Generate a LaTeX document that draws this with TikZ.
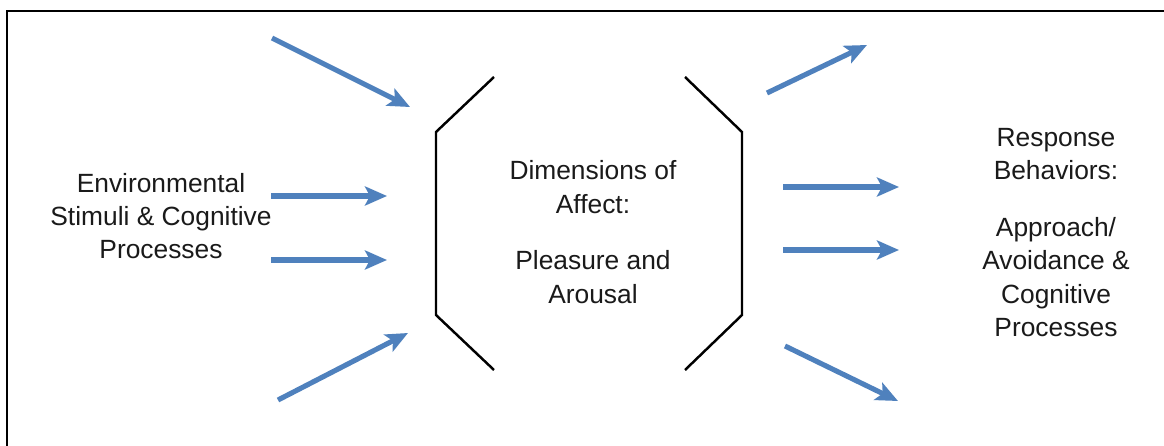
\documentclass[tikz,border=0pt]{standalone}
\usepackage{fontspec}
\setmainfont{Liberation Sans}
\usetikzlibrary{arrows.meta}
\definecolor{arrowblue}{HTML}{4F81BD}
\definecolor{txt}{HTML}{1A1A1A}
\begin{document}
\begin{tikzpicture}[x={(0.02cm,0)},y={(0,-0.02cm)},
  flow/.style={draw=arrowblue,line width=2.9pt,-{Stealth[length=0.44cm,width=0.38cm,inset=0.1cm]}},
  brace/.style={draw=black,line width=1.4pt,line join=miter},
  label/.style={align=center,text=txt,font=\fontsize{15pt}{19pt}\selectfont,inner sep=0pt}]
\useasboundingbox (0,0) rectangle (1164,446);
\fill[white] (0,0) rectangle (1164,446);
% frame (top and left edges visible)
\draw[line width=1.2pt,black] (7,446) -- (7,11) -- (1164,11);

% text nodes
\node[label] (env) at (161,216) {Environmental\\Stimuli \& Cognitive\\Processes};
\node[label] (dim) at (593,187) {Dimensions of\\Affect:};
\node[label] (ple) at (593,277) {Pleasure and\\Arousal};
\node[label] (resp) at (1056,154) {Response\\Behaviors:};
\node[label] (appr) at (1056,277) {Approach/\\Avoidance \&\\Cognitive\\Processes};

% brackets
\coordinate (lb1) at (494,77); \coordinate (lb2) at (436,132);
\coordinate (lb3) at (436,315); \coordinate (lb4) at (494,370);
\coordinate (rb1) at (685,77); \coordinate (rb2) at (742,132);
\coordinate (rb3) at (742,315); \coordinate (rb4) at (685,370);
\draw[brace] (lb1) -- (lb2) -- (lb3) -- (lb4);
\draw[brace] (rb1) -- (rb2) -- (rb3) -- (rb4);

% arrow end points
\coordinate (a1s) at (272,38);  \coordinate (a1e) at (410,107);
\coordinate (a2s) at (271,196); \coordinate (a2e) at (387,196);
\coordinate (a3s) at (271,260); \coordinate (a3e) at (387,260);
\coordinate (a4s) at (278,400); \coordinate (a4e) at (408,333);
\coordinate (b1s) at (767,93);  \coordinate (b1e) at (867,45);
\coordinate (b2s) at (783,187); \coordinate (b2e) at (899,187);
\coordinate (b3s) at (783,250); \coordinate (b3e) at (899,250);
\coordinate (b4s) at (785,346); \coordinate (b4e) at (898,401);

\draw[flow] (a1s) -- (a1e);
\draw[flow] (a2s) -- (a2e);
\draw[flow] (a3s) -- (a3e);
\draw[flow] (a4s) -- (a4e);
\draw[flow] (b1s) -- (b1e);
\draw[flow] (b2s) -- (b2e);
\draw[flow] (b3s) -- (b3e);
\draw[flow] (b4s) -- (b4e);
\end{tikzpicture}
\end{document}
